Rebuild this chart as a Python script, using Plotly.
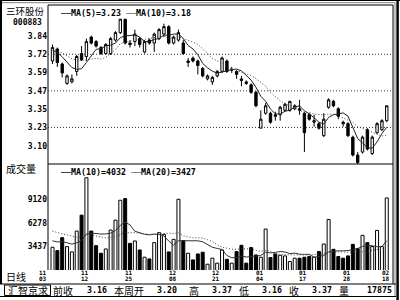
import plotly.graph_objects as go
import pandas as pd

# ---------------- data ----------------
opens = [3.67, 3.75, 3.65, 3.52, 3.53, 3.60, 3.72, 3.70, 3.83, 3.80,
         3.76, 3.72, 3.72, 3.81, 3.86, 3.95, 3.79, 3.80, 3.82, 3.73,
         3.81, 3.79, 3.82, 3.85, 3.90, 3.79, 3.81, 3.79, 3.66, 3.69,
         3.67, 3.62, 3.55, 3.53, 3.57, 3.60, 3.67, 3.61, 3.60, 3.55,
         3.53, 3.51, 3.46, 3.22, 3.32, 3.32, 3.31, 3.31, 3.34, 3.34,
         3.35, 3.35, 3.32, 3.31, 3.26, 3.25, 3.17, 3.36, 3.40, 3.35,
         3.26, 3.25, 3.16, 3.04, 3.06, 3.21, 3.05, 3.19, 3.21, 3.27]
highs = [3.78, 3.76, 3.66, 3.58, 3.58, 3.71, 3.77, 3.82, 3.84, 3.81,
         3.77, 3.79, 3.83, 3.87, 3.95, 3.95, 3.81, 3.88, 3.83, 3.81,
         3.82, 3.86, 3.89, 3.92, 3.91, 3.84, 3.88, 3.81, 3.69, 3.70,
         3.68, 3.63, 3.58, 3.57, 3.61, 3.70, 3.68, 3.63, 3.61, 3.57,
         3.54, 3.52, 3.47, 3.34, 3.39, 3.33, 3.33, 3.37, 3.39, 3.40,
         3.38, 3.41, 3.33, 3.32, 3.31, 3.26, 3.32, 3.42, 3.41, 3.36,
         3.27, 3.26, 3.17, 3.06, 3.17, 3.22, 3.17, 3.26, 3.28, 3.37]
lows = [3.65, 3.63, 3.56, 3.51, 3.52, 3.57, 3.67, 3.67, 3.78, 3.76,
        3.71, 3.71, 3.71, 3.80, 3.85, 3.78, 3.76, 3.77, 3.76, 3.72,
        3.78, 3.73, 3.81, 3.83, 3.78, 3.78, 3.80, 3.71, 3.63, 3.66,
        3.58, 3.56, 3.54, 3.51, 3.56, 3.59, 3.59, 3.59, 3.55, 3.50,
        3.51, 3.45, 3.36, 3.22, 3.31, 3.25, 3.27, 3.27, 3.33, 3.33,
        3.34, 3.31, 3.06, 3.27, 3.23, 3.21, 3.16, 3.35, 3.36, 3.28,
        3.23, 3.16, 3.03, 2.98, 3.05, 3.07, 3.04, 3.18, 3.20, 3.26]
closes = [3.76, 3.66, 3.59, 3.57, 3.55, 3.70, 3.68, 3.80, 3.79, 3.77,
          3.72, 3.78, 3.82, 3.86, 3.95, 3.79, 3.78, 3.85, 3.78, 3.80,
          3.79, 3.85, 3.88, 3.90, 3.79, 3.83, 3.86, 3.72, 3.67, 3.67,
          3.64, 3.57, 3.57, 3.56, 3.60, 3.69, 3.60, 3.61, 3.58, 3.54,
          3.52, 3.46, 3.37, 3.28, 3.37, 3.26, 3.30, 3.36, 3.38, 3.40,
          3.37, 3.34, 3.19, 3.28, 3.27, 3.22, 3.28, 3.41, 3.37, 3.30,
          3.25, 3.17, 3.04, 2.99, 3.16, 3.08, 3.16, 3.25, 3.27, 3.37]
volumes = [3280, 2870, 4460, 3360, 2710, 5270, 7220, 11810, 5270, 3480,
           2550, 3070, 5390, 6610, 9050, 9250, 3760, 4050, 2950, 2060,
           1850, 3850, 5070, 4860, 2710, 4250, 9170, 4090, 2550, 1730,
           2460, 2670, 1200, 1940, 1330, 2950, 1810, 1330, 2750, 3520,
           1330, 3240, 2340, 2060, 5510, 2020, 2460, 2300, 2220, 1530,
           1940, 1940, 2060, 2140, 2060, 2750, 3680, 6690, 3030, 2140,
           1940, 2220, 3640, 3110, 4740, 3850, 3360, 5350, 3360, 9330]
# days before the visible window, estimated from where the MA lines start
prior_closes = [3.78, 3.76, 3.77, 3.75, 3.77, 3.72, 3.74, 3.75, 3.73]
prior_volumes = [6800, 7200, 5900, 6400, 7500, 6100, 5600, 6900, 6200, 5800,
                 4300, 3900, 5200, 4100, 3600, 4800, 3500, 4400, 3700]

price_tick_labels = ["3.10", "3.23", "3.35", "3.47", "3.59", "3.72", "3.84"]
price_tick_values = [3.1025, 3.225, 3.3475, 3.47, 3.5925, 3.715, 3.8375]
price_grid_values = [3.715, 3.47, 3.225]
volume_tick_labels = ["3437", "6278", "9120"]
volume_tick_values = [3437, 6278, 9120]
date_labels = ["11/03", "11/12", "11/25", "12/08", "12/21", "01/04", "01/17", "01/28", "02/18"]
date_label_bars = [0, 7, 16, 25, 34, 43, 52, 61, 69]

stock_name = "三环股份"
stock_code = "000883"
price_legend = "──MA(5)=3.23 ┈┈MA(10)=3.18"
volume_legend = "──MA(10)=4032 ┈┈MA(20)=3427"
status_title = "汇智京求"
status_labels = ["前收", "本周开", "高", "低", "收", "量"]
status_values = ["3.16", "3.20", "3.37", "3.16", "3.37", "17875"]

# ---------------- derived series ----------------
n = len(closes)
idx = list(range(n))
up = [c >= o for o, c in zip(opens, closes)]
cs = pd.Series(prior_closes + closes)
vs = pd.Series(prior_volumes + volumes)
ma5 = cs.rolling(5).mean().iloc[len(prior_closes):].tolist()
ma10 = cs.rolling(10).mean().iloc[len(prior_closes):].tolist()
vma10 = vs.rolling(10).mean().iloc[len(prior_volumes):].tolist()
vma20 = vs.rolling(20).mean().iloc[len(prior_volumes):].tolist()

# ---------------- layout helpers ----------------
W, H = 400, 300
def px(x):
    return x / W
def py(y):
    return 1 - y / H

MONO = "DejaVu Sans Mono"
CJK = "Noto Sans CJK SC"
num_font = dict(family=MONO, size=8, color="black", weight="bold")
DOT = "1px,2px"

fig = go.Figure()

fig.add_trace(go.Scatter(x=idx, y=ma5, mode="lines", line=dict(color="#202020", width=1),
                         xaxis="x", yaxis="y", hoverinfo="skip"))
fig.add_trace(go.Scatter(x=idx, y=ma10, mode="lines", line=dict(color="#404040", width=1, dash=DOT),
                         xaxis="x", yaxis="y", hoverinfo="skip"))
fig.add_trace(go.Candlestick(
    x=idx, open=opens, high=highs, low=lows, close=closes,
    increasing=dict(line=dict(color="black", width=1), fillcolor="white"),
    decreasing=dict(line=dict(color="black", width=1), fillcolor="black"),
    whiskerwidth=0, xaxis="x", yaxis="y", hoverinfo="skip"))

fig.add_trace(go.Bar(
    x=idx, y=volumes, width=0.62,
    marker=dict(color=["white" if u else "black" for u in up], line=dict(color="black", width=1)),
    xaxis="x", yaxis="y2", hoverinfo="skip"))
fig.add_trace(go.Scatter(x=idx, y=vma10, mode="lines", line=dict(color="#303030", width=1),
                         xaxis="x", yaxis="y2", hoverinfo="skip"))
fig.add_trace(go.Scatter(x=idx, y=vma20, mode="lines", line=dict(color="#404040", width=1, dash=DOT),
                         xaxis="x", yaxis="y2", hoverinfo="skip"))

x_lo, x_hi = -0.93, 70.29

shapes = []
def pline(x0, y0, x1, y1, color="black", width=1, dash=None):
    d = dict(type="line", xref="paper", yref="paper", x0=px(x0), y0=py(y0), x1=px(x1), y1=py(y1),
             line=dict(color=color, width=width))
    if dash:
        d["line"]["dash"] = dash
    shapes.append(d)

# outer window frame
pline(0, 0.5, 400, 0.5)
pline(0, 2.7, 395, 2.7, color="#808080")
pline(1, 0, 1, 284, width=2)
pline(395, 2.7, 395, 296, color="#808080")
pline(397.6, 0, 397.6, 300, width=2.5)
# chart box
pline(48, 5, 393, 5)
pline(48, 5, 48, 270)
pline(393, 5, 393, 284)
pline(48, 164, 393, 164)
# status bar
pline(0, 284, 396, 284)
pline(0, 296.5, 396, 296.5)
shapes.append(dict(type="rect", xref="paper", yref="paper", x0=px(4.5), x1=px(50.5),
                   y0=py(295.5), y1=py(285), line=dict(color="black", width=1)))
# dotted price grid
for gv in price_grid_values:
    shapes.append(dict(type="line", xref="paper", yref="y", x0=px(48), x1=px(393), y0=gv, y1=gv,
                       line=dict(color="#303030", width=1, dash=DOT)))

ann = []
def text(x, y, s, font, anchor="center"):
    ann.append(dict(xref="paper", yref="paper", x=px(x), y=py(y), text=s, showarrow=False,
                    xanchor=anchor, yanchor="middle", font=font, borderpad=0))

cjk_font = dict(family=CJK, size=10, color="black")
mono_font = dict(family=MONO, size=8.3, color="black", weight="bold")
date_font = dict(family=MONO, size=6, color="black", weight="bold")

text(25, 11, stock_name, dict(family=CJK, size=9.5, color="black"))
text(27, 22.8, stock_code, dict(family=MONO, size=8, color="black", weight="bold"))
text(59, 13.3, price_legend, mono_font, "left")
text(21, 168, "成交量", cjk_font)
text(59, 171.7, volume_legend, mono_font, "left")
text(16, 276.5, "日线", cjk_font)

for lab, b in zip(date_labels, date_label_bars):
    mon, day = lab.split("/")
    for part, yy in ((mon, 272.6), (day, 278.4)):
        if b == 0:
            a = dict(x=x_lo, xanchor="right")
        else:
            a = dict(x=b, xanchor="center", xshift=-1)
        a.update(xref="x", yref="paper", y=py(yy), yanchor="middle", text=part,
                 showarrow=False, font=date_font, borderpad=0)
        ann.append(a)

text(27.5, 290.3, status_title, cjk_font)
label_left = [52, 113, 188, 238, 288, 338]
value_right = [107.5, 177.5, 232.5, 283, 332.5, 392.5]
for lab, v, xl, xr in zip(status_labels, status_values, label_left, value_right):
    text(xl, 290.3, lab, cjk_font, "left")
    text(xr, 289.8, v, mono_font, "right")

fig.update_layout(
    width=W, height=H, margin=dict(l=0, r=0, t=0, b=0),
    paper_bgcolor="white", plot_bgcolor="white", showlegend=False,
    shapes=shapes, annotations=ann,
    xaxis=dict(domain=[px(48), px(393)], range=[x_lo, x_hi], anchor="y2",
               showticklabels=False, showgrid=False, zeroline=False, showline=False,
               ticks="", rangeslider=dict(visible=False)),
    yaxis=dict(domain=[py(164), py(5)], range=[2.980, 4.045], anchor="x",
               tickvals=price_tick_values, ticktext=price_tick_labels,
               showgrid=False, zeroline=False, showline=False, ticks="", tickfont=num_font),
    yaxis2=dict(domain=[py(270), py(164)], range=[491, 13497], anchor="x",
                tickvals=volume_tick_values, ticktext=volume_tick_labels,
                showgrid=False, zeroline=False, showline=False, ticks="", tickfont=num_font),
)

fig.write_html("out.html", config={"displayModeBar": False})
